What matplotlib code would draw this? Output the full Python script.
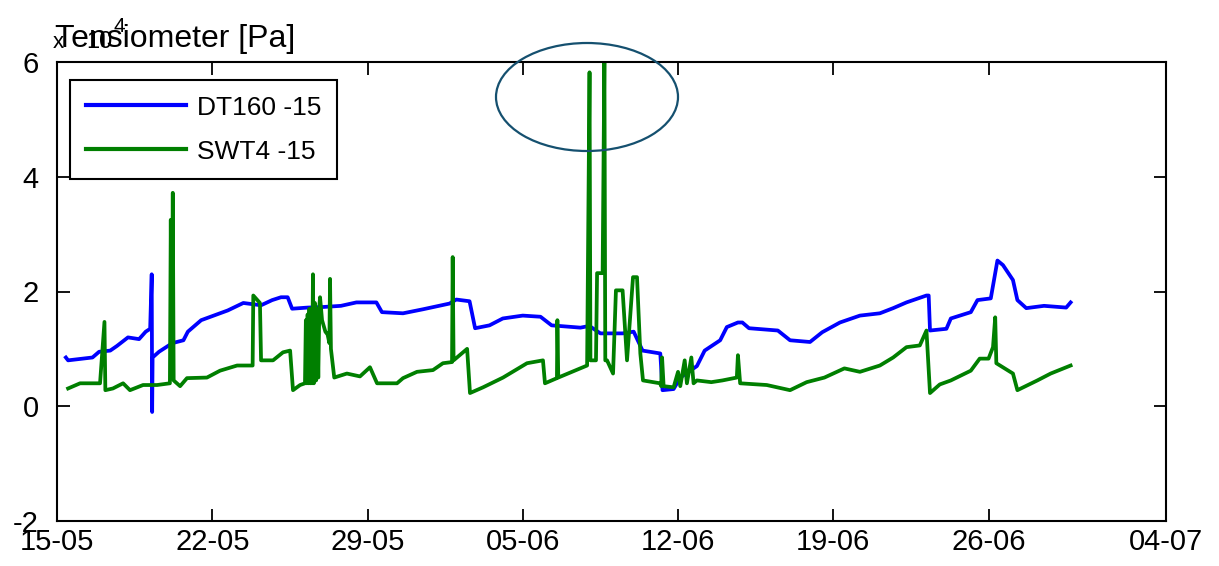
import matplotlib
matplotlib.use('Agg')
import matplotlib.pyplot as plt
import matplotlib.dates as mdates
from matplotlib.patches import Ellipse
import numpy as np
import pandas as pd

plt.rcParams['font.family'] = ['Liberation Sans', 'DejaVu Sans']
plt.rcParams['axes.unicode_minus'] = False

# time in days since 15-05, pressure in 1e4 Pa
dt160_days = [0.4, 0.5, 1.6, 1.9, 2.4, 2.7, 3.2, 3.7, 4.0, 4.2, 4.27, 4.29, 4.31, 4.6,
              5.2, 5.7, 5.9, 6.5, 7.7, 8.4, 9.2, 9.7, 10.1, 10.4, 10.6, 11.3, 12.0,
              12.8, 13.5, 14.4, 14.65, 15.6, 16.5, 17.7, 18.0, 18.6, 18.85, 19.5, 20.1,
              21.0, 21.8, 22.3, 23.6, 24.0, 24.5, 25.5, 26.0, 26.4, 27.2, 27.3, 27.8,
              28.1, 28.85, 29.2, 29.9, 30.2, 30.7, 30.9, 31.2, 32.5, 33.05, 33.95, 34.5,
              35.3, 36.2, 37.1, 37.7, 38.3, 39.2, 39.3, 39.36, 40.1, 40.3, 41.2, 41.5,
              42.1, 42.4, 42.65, 43.1, 43.3, 43.7, 44.5, 45.5, 45.7]
dt160_vals = [0.85, 0.80, 0.85, 0.95, 0.97, 1.05, 1.20, 1.17, 1.30, 1.35, 2.30, -0.10, 0.85, 0.95,
              1.10, 1.15, 1.30, 1.50, 1.67, 1.80, 1.76, 1.85, 1.90, 1.90, 1.70, 1.72, 1.73,
              1.75, 1.81, 1.81, 1.64, 1.62, 1.69, 1.79, 1.86, 1.83, 1.36, 1.41, 1.53,
              1.58, 1.56, 1.41, 1.37, 1.40, 1.27, 1.27, 1.30, 0.97, 0.92, 0.28, 0.30,
              0.50, 0.70, 0.97, 1.15, 1.38, 1.46, 1.46, 1.36, 1.32, 1.15, 1.12, 1.29,
              1.46, 1.58, 1.62, 1.71, 1.81, 1.93, 1.93, 1.32, 1.35, 1.53, 1.64, 1.85,
              1.88, 2.54, 2.46, 2.20, 1.85, 1.71, 1.75, 1.72, 1.81]

swt4_days = [0.5, 1.04, 1.94, 2.14, 2.18, 2.52, 2.98, 3.29, 3.88, 4.51, 5.09, 5.13, 5.17,
             5.22, 5.26, 5.55, 5.86, 6.76, 7.35, 8.12, 8.82, 8.85, 9.15, 9.2, 9.74, 10.19,
             10.51, 10.6, 10.64, 10.96, 11.18, 11.22, 11.26, 11.3, 11.34, 11.38, 11.42,
             11.46, 11.5, 11.54, 11.58, 11.63, 11.68, 11.73, 11.78, 11.83, 11.86, 11.95,
             12.1, 12.2, 12.28, 12.31, 12.35, 12.5, 13.07, 13.66, 14.11, 14.43, 15.33,
             15.6, 16.23, 16.95, 17.4, 17.81, 17.84, 17.88, 18.49, 18.62, 19.21, 20.11,
             21.19, 21.91, 22.0, 22.54, 22.56, 22.6, 23.9, 24.01, 24.05, 24.3, 24.35,
             24.6, 24.68, 24.72, 24.8, 25.07, 25.2, 25.5, 25.7, 25.97, 26.15, 26.3,
             26.42, 27.19, 27.24, 27.28, 27.35, 27.8, 28.0, 28.1, 28.3, 28.4, 28.6,
             28.7, 28.85, 29.5, 30.0, 30.65, 30.7, 30.8, 32.0, 33.05, 33.8, 34.6, 35.5,
             36.2, 37.1, 37.7, 38.3, 38.9, 39.2, 39.36, 39.8, 40.3, 41.2, 41.6, 42.0,
             42.2, 42.3, 42.35, 43.1, 43.3, 44.2, 44.8, 45.5, 45.7]
swt4_vals = [0.31, 0.40, 0.40, 1.47, 0.28, 0.31, 0.40, 0.28, 0.37, 0.37, 0.40, 3.25, 0.50,
             3.72, 0.45, 0.35, 0.49, 0.50, 0.62, 0.71, 0.71, 1.93, 1.80, 0.80, 0.80, 0.94,
             0.97, 0.50, 0.28, 0.37, 0.40, 1.50, 0.40, 1.60, 0.40, 1.70, 0.40,
             1.65, 0.40, 2.30, 0.40, 1.80, 0.45, 1.70, 0.50, 1.75, 1.90, 1.50,
             1.30, 1.25, 1.10, 2.22, 1.00, 0.50, 0.57, 0.52, 0.68, 0.40, 0.40,
             0.49, 0.60, 0.63, 0.75, 0.77, 2.60, 0.80, 1.00, 0.23, 0.33, 0.50,
             0.75, 0.80, 0.40, 0.49, 1.50, 0.50, 0.71, 5.82, 0.80, 0.80, 2.32,
             2.32, 6.10, 0.80, 0.80, 0.57, 2.02, 2.02, 0.80, 2.25, 2.25, 0.92,
             0.45, 0.40, 0.35, 0.85, 0.35, 0.33, 0.60, 0.35, 0.80, 0.40, 0.85,
             0.40, 0.45, 0.42, 0.45, 0.50, 0.89, 0.40, 0.37, 0.28, 0.42, 0.50, 0.66,
             0.60, 0.71, 0.85, 1.03, 1.06, 1.32, 0.23, 0.38, 0.45, 0.62, 0.83, 0.83,
             1.03, 1.55, 0.75, 0.57, 0.28, 0.45, 0.57, 0.68, 0.71]

# date ticks (days since 15-05); the last one sits on the axis end
tick_days = [0, 7, 14, 21, 28, 35, 42, 50]

start = pd.Timestamp('2013-05-15')
t_dt = start + pd.to_timedelta(dt160_days, unit='D')
t_swt = start + pd.to_timedelta(swt4_days, unit='D')

fig = plt.figure(figsize=(12.19, 5.66), dpi=100)
ax = fig.add_axes([57/1219, 45/566, 1109/1219, 459/566])

ax.plot(t_dt, dt160_vals, color='#0000ff', lw=2.7, label='DT160 -15')
ax.plot(t_swt, swt4_vals, color='#007f00', lw=2.7, label='SWT4 -15')

ax.set_ylim(-2, 6)
ax.set_yticks([-2, 0, 2, 4, 6])
ax.set_xlim(start, start + pd.Timedelta(days=50))
ax.set_xticks(start + pd.to_timedelta(tick_days, unit='D'))
ax.xaxis.set_major_formatter(mdates.DateFormatter('%d-%m'))

for s in ax.spines.values():
    s.set_linewidth(1.5)
ax.tick_params(direction='in', length=9, width=1.3, top=True, right=True,
               labelsize=21)
ax.tick_params(axis='y', pad=13)
ax.tick_params(axis='x', pad=5)

leg = ax.legend(loc='upper left', bbox_to_anchor=(0.0117, 0.961), fontsize=19,
                handlelength=3.8, handletextpad=0.4, labelspacing=0.75,
                borderpad=0.6, borderaxespad=0, fancybox=False, framealpha=1)
leg.get_frame().set_edgecolor('black')
leg.get_frame().set_linewidth(1.5)
for ln in leg.get_lines():
    ln.set_linewidth(3)

fig.text(55/1219, 1 - 47/566, 'Tensiometer [Pa]', fontsize=23, va='baseline')
fig.text(53/1219, 1 - 48/566, 'x', fontsize=16, va='baseline')
fig.text(86/1219, 1 - 48/566, '10', fontsize=17, va='baseline')
fig.text(113/1219, 1 - 32/566, '4', fontsize=15, va='baseline')

ell = Ellipse((587/1219, 1 - 97/566), 182/1219, 108/566, transform=fig.transFigure,
              fill=False, edgecolor='#15506f', lw=1.6, zorder=10)
fig.patches.append(ell)

fig.savefig('out.png', dpi=100)
